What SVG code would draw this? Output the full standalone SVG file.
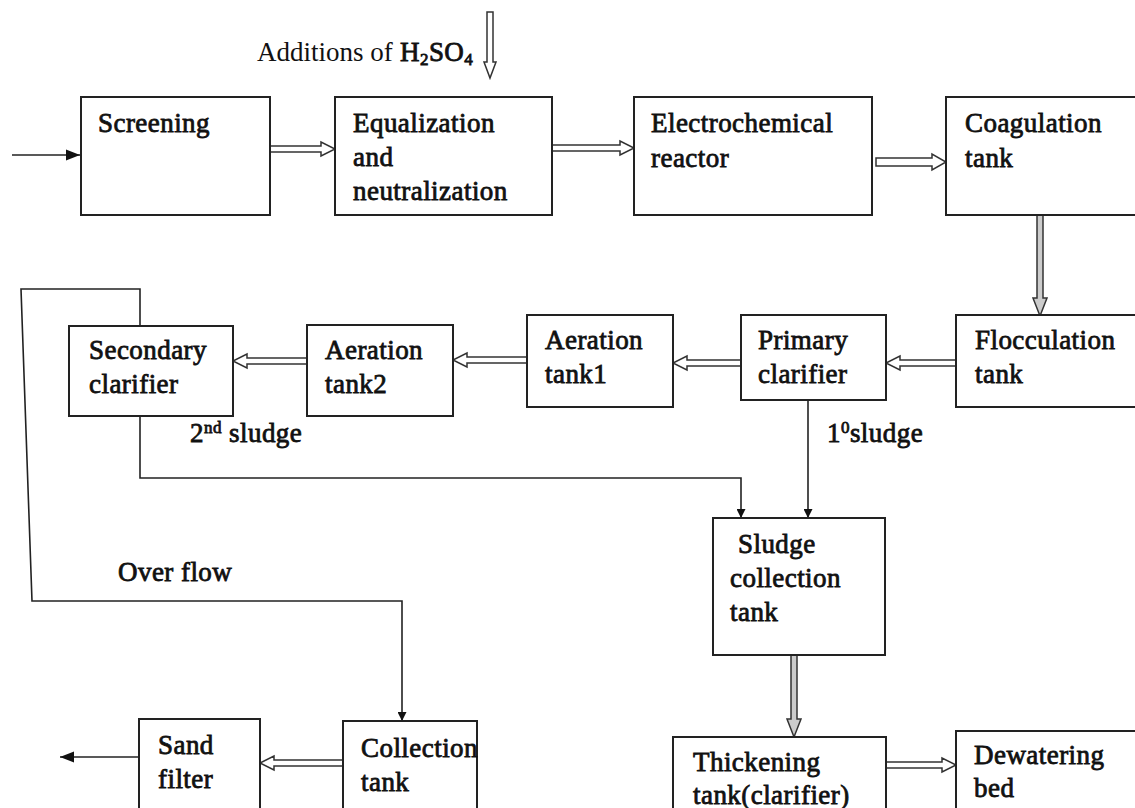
<svg xmlns="http://www.w3.org/2000/svg" width="1135" height="808" viewBox="0 0 1135 808">
<style>
.box{fill:#fff;stroke:#222;stroke-width:2}
.t{font-family:"Liberation Serif","Times New Roman",serif;font-size:27px;fill:#111;stroke:#111;stroke-width:0.8;letter-spacing:0.45px}
.n{font-family:"Liberation Serif","Times New Roman",serif;font-size:27px;fill:#111}
.ha{fill:#fff;stroke:#333;stroke-width:1.5;stroke-linejoin:miter}
.hg{fill:#ccc;stroke:#333;stroke-width:1.5}
.ln{fill:none;stroke:#222;stroke-width:1.6}
</style>
<defs>
<marker id="ah" viewBox="0 0 10 10" refX="10" refY="5" markerWidth="9" markerHeight="9" markerUnits="userSpaceOnUse" orient="auto">
<path d="M0,0 L10,5 L0,10 Z" fill="#111"/>
</marker>
<marker id="ah2" viewBox="0 0 10 10" refX="10" refY="5" markerWidth="14" markerHeight="14" markerUnits="userSpaceOnUse" orient="auto">
<path d="M0,1 L10,5 L0,9 Z" fill="#111"/>
</marker>
</defs>

<g id="connectors">
<line class="ln" x1="12" y1="155" x2="80" y2="155" marker-end="url(#ah2)"/>
<line class="ln" x1="139" y1="757" x2="60" y2="757" marker-end="url(#ah2)"/>
<path class="ln" d="M140,326 V289 H21 L32,601 H402 V721" marker-end="url(#ah)"/>
<path class="ln" d="M140,416 V478 H741 V518" marker-end="url(#ah)"/>
<path class="ln" d="M808,400 V518" marker-end="url(#ah)"/>
<polygon class="ha" points="487,12 487,62 484,62 490,78 496,62 493,62 493,12"/>
<polygon class="ha" points="270,146 321,146 321,142 335,149 321,156 321,152 270,152"/>
<polygon class="ha" points="552,145 620,145 620,141 634,148 620,155 620,151 552,151"/>
<polygon class="ha" points="876,158 932,158 932,154 946,162 932,170 932,166 876,166"/>
<polygon class="hg" points="1037,215 1037,298 1033,298 1040,316 1047,298 1043,298 1043,215"/>
<polygon class="ha" points="956,360 900,360 900,356 886,363 900,370 900,366 956,366"/>
<polygon class="ha" points="741,360 687,360 687,356 673,363 687,370 687,366 741,366"/>
<polygon class="ha" points="527,357 467,357 467,353 453,360 467,367 467,363 527,363"/>
<polygon class="ha" points="307,358 247,358 247,354 233,361 247,368 247,364 307,364"/>
<polygon class="hg" points="791,655 791,719 787,719 794,737 801,719 797,719 797,655"/>
<polygon class="ha" points="886,762 942,762 942,758 956,765 942,772 942,768 886,768"/>
<polygon class="ha" points="343,760 274,760 274,756 260,763 274,770 274,766 343,766"/>
</g>

<g id="label-h2so4">
<text class="n" x="257" y="61">Additions of </text>
<text class="t" x="400" y="61">H<tspan font-size="17" dy="4">2</tspan><tspan dy="-4">SO</tspan><tspan font-size="17" dy="4">4</tspan></text>
</g>

<g id="screening">
<rect class="box" x="81" y="97" width="189" height="118"/>
<text class="t" x="98" y="132">Screening</text>
</g>
<g id="equalization">
<rect class="box" x="335" y="97" width="217" height="118"/>
<text class="t" x="353" y="132">Equalization</text>
<text class="t" x="353" y="166">and</text>
<text class="t" x="353" y="200">neutralization</text>
</g>
<g id="electrochemical">
<rect class="box" x="634" y="97" width="238" height="118"/>
<text class="t" x="651" y="132">Electrochemical</text>
<text class="t" x="651" y="167">reactor</text>
</g>
<g id="coagulation">
<rect class="box" x="946" y="97" width="200" height="118"/>
<text class="t" x="965" y="132">Coagulation</text>
<text class="t" x="965" y="167">tank</text>
</g>
<g id="flocculation">
<rect class="box" x="956" y="315" width="190" height="92"/>
<text class="t" x="975" y="349">Flocculation</text>
<text class="t" x="975" y="383">tank</text>
</g>
<g id="primary">
<rect class="box" x="741" y="315" width="145" height="85"/>
<text class="t" x="758" y="349">Primary</text>
<text class="t" x="758" y="383">clarifier</text>
</g>
<g id="aeration1">
<rect class="box" x="527" y="315" width="146" height="92"/>
<text class="t" x="545" y="349">Aeration</text>
<text class="t" x="545" y="383">tank1</text>
</g>
<g id="aeration2">
<rect class="box" x="307" y="325" width="146" height="91"/>
<text class="t" x="325" y="359">Aeration</text>
<text class="t" x="325" y="393">tank2</text>
</g>
<g id="secondary">
<rect class="box" x="69" y="326" width="164" height="90"/>
<text class="t" x="89" y="359">Secondary</text>
<text class="t" x="89" y="393">clarifier</text>
</g>
<g id="labels">
<text class="t" x="190" y="442">2<tspan font-size="17" dy="-9">nd</tspan><tspan dy="9"> sludge</tspan></text>
<text class="t" x="827" y="442">1<tspan font-size="17" dy="-9">0</tspan><tspan dy="9">sludge</tspan></text>
<text class="t" x="118" y="581">Over flow</text>
</g>
<g id="sludge">
<rect class="box" x="713" y="518" width="172" height="137"/>
<text class="t" x="738" y="553">Sludge</text>
<text class="t" x="730" y="587">collection</text>
<text class="t" x="730" y="621">tank</text>
</g>
<g id="thickening">
<rect class="box" x="673" y="737" width="213" height="80"/>
<text class="t" x="693" y="771">Thickening</text>
<text class="t" x="693" y="804">tank(clarifier)</text>
</g>
<g id="dewatering">
<rect class="box" x="956" y="731" width="190" height="90"/>
<text class="t" x="974" y="764">Dewatering</text>
<text class="t" x="974" y="797">bed</text>
</g>
<g id="collection">
<rect class="box" x="343" y="721" width="134" height="95"/>
<text class="t" x="361" y="757">Collection</text>
<text class="t" x="361" y="791">tank</text>
</g>
<g id="sandfilter">
<rect class="box" x="139" y="719" width="121" height="97"/>
<text class="t" x="158" y="754">Sand</text>
<text class="t" x="158" y="788">filter</text>
</g>
</svg>
